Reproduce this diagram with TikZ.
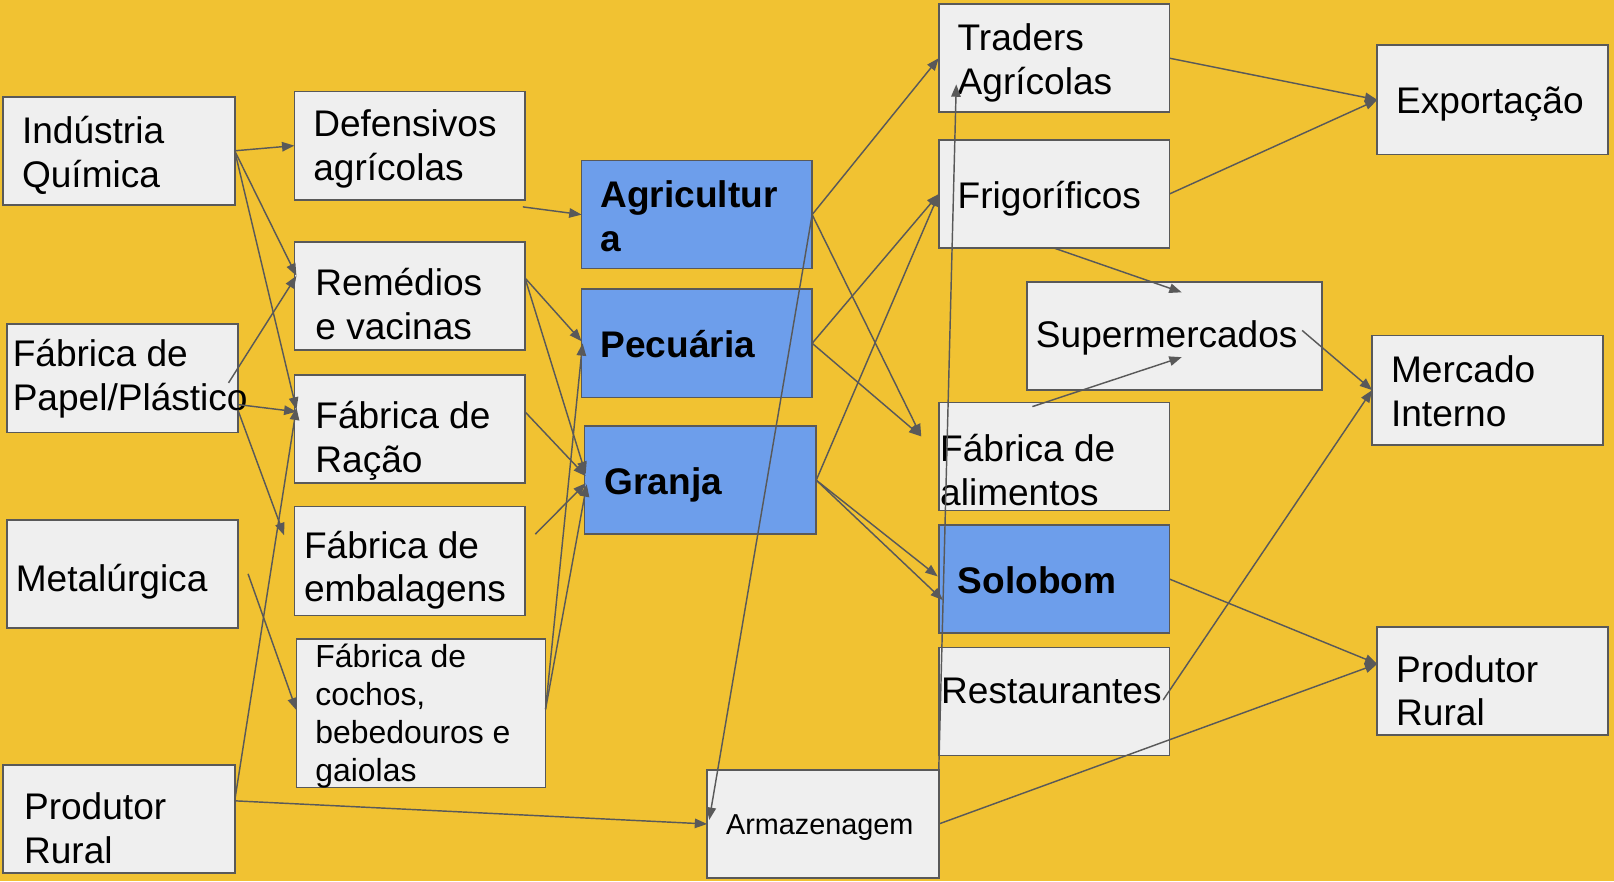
\documentclass[tikz,border=0pt]{standalone}
\usepackage{fontspec}
\setmainfont{Liberation Sans}
\usetikzlibrary{fit,calc,arrows.meta}
\definecolor{bgY}{HTML}{F1C232}
\definecolor{boxG}{HTML}{EFEFEF}
\definecolor{lineG}{HTML}{595959}
\definecolor{blueB}{HTML}{6D9EEB}
\begin{document}
\begin{tikzpicture}[x=0.5pt,y=-0.5pt,
  box/.style={draw=lineG, line width=0.8pt, fill=boxG, inner sep=0pt, outer sep=0pt},
  bbox/.style={box, fill=blueB},
  basetxt/.style={anchor=west, align=left, inner sep=0pt},
  txt/.style={basetxt, yshift=-1.5pt, font=\fontsize{18}{21.3}\selectfont},
  btxt/.style={basetxt, font=\fontsize{18}{21.3}\selectfont\bfseries},
  stxt/.style={basetxt, yshift=-1.5pt, font=\fontsize{15.5}{18.5}\selectfont},
  xtxt/.style={basetxt, yshift=-1.5pt, font=\fontsize{14}{16}\selectfont},
  arr/.style={draw=lineG, line width=0.7pt, -{Triangle[length=6pt,width=4.6pt]}}]
\fill[bgY] (0,0) rectangle (1568,856);
\useasboundingbox (0,0) rectangle (1568,856);
% boxes
\node[box, fit={(3,94) (228,199)}] (ind) {};
\node[box, fit={(286,89) (510,194)}] (def) {};
\node[box, fit={(286,235) (510,340)}] (rem) {};
\node[box, fit={(286,364) (510,469)}] (rac) {};
\node[box, fit={(286,492) (510,598)}] (emb) {};
\node[box, fit={(288,621) (530,765)}] (coc) {};
\node[box, fit={(7,315) (231,420)}] (pap) {};
\node[box, fit={(7,505) (231,610)}] (met) {};
\node[box, fit={(3,743) (228,848)}] (prl) {};
\node[bbox, fit={(565,156) (789,261)}] (agr) {};
\node[bbox, fit={(565,281) (789,386)}] (pec) {};
\node[bbox, fit={(568,414) (793,519)}] (gra) {};
\node[box, fit={(912,4) (1136,109)}] (tra) {};
\node[box, fit={(912,136) (1136,241)}] (fri) {};
\node[box, fit={(998,274) (1284,379)}] (sup) {};
\node[box, fit={(912,391) (1136,496)}] (fal) {};
\node[bbox, fit={(912,510) (1136,615)}] (sol) {};
\node[box, fit={(912,629) (1136,734)}] (res) {};
\node[box, fit={(687,748) (912,853)}] (arm) {};
\node[box, fit={(1338,44) (1562,150)}] (exp) {};
\node[box, fit={(1333,326) (1557,432)}] (mer) {};
\node[box, fit={(1338,609) (1562,714)}] (prr) {};
% texts
\node[txt] (indT) at (21,148) {Indústria\\Química};
\node[txt] (defT) at (304,142) {Defensivos\\agrícolas};
\node[txt] (remT) at (306,292) {Remédios\\e vacinas};
\node[txt] (racT) at (306,425) {Fábrica de\\Ração};
\node[txt] (embT) at (295,551) {Fábrica de\\embalagens};
\node[stxt] (cocT) at (306,693) {Fábrica de\\cochos,\\bebedouros e\\gaiolas};
\node[txt] (papT) at (12,365) {Fábrica de\\Papel/Plástico};
\node[txt] (metT) at (15,562) {Metalúrgica};
\node[txt] (prlT) at (23,802) {Produtor\\Rural};
\node[btxt] (agrT) at (583,210) {Agricultur\\a};
\node[btxt] (pecT) at (583,334) {Pecuária};
\node[btxt] (graT) at (587,471) {Granja};
\node[txt] (traT) at (930,58) {Traders\\Agrícolas};
\node[txt] (friT) at (930,190) {Frigoríficos};
\node[txt] (supT) at (1006,325) {Supermercados};
\node[txt] (falT) at (913,454) {Fábrica de\\alimentos};
\node[btxt] (solT) at (930,564) {Solobom};
\node[txt] (resT) at (914,668) {Restaurantes};
\node[xtxt] (armT) at (705,801) {Armazenagem};
\node[txt] (expT) at (1356,98) {Exportação};
\node[txt] (merT) at (1351,377) {Mercado\\Interno};
\node[txt] (prrT) at (1356,668) {Produtor\\Rural};
% connectors
\draw[arr] (ind.east) -- (def.west);
\draw[arr] (ind.east) -- ($(rem.north west)+(2,33)$);
\draw[arr] (ind.east) -- ($(rac.north west)+(2,34)$);
\draw[arr] ($(pap.north east)+(-9,57)$) -- ($(rem.north west)+(2,33)$);
\draw[arr] ($(pap.north east)+(0,78)$) -- ($(rac.north west)+(2,36)$);
\draw[arr] ($(pap.north east)+(0,83)$) -- ($(emb.north west)+(-10,28)$);
\coordinate (metS) at ($(met.east)+(10,0)$);
\draw[arr] (metS) -- ($(coc.north west)+(0,69)$);
\draw[arr] ($(prl.north east)+(0,35)$) -- ($(rac.north west)+(2,32)$);
\draw[arr] ($(prl.north east)+(0,35)$) -- (arm.west);
\draw[arr] ($(def.south east)+(-2,7)$) -- (agr.west);
\draw[arr] ($(rem.north east)+(0,35)$) -- ($(pec.west)+(0,-2)$);
\draw[arr] ($(rem.north east)+(0,35)$) -- ($(gra.west)+(1,-6)$);
\draw[arr] ($(rac.north east)+(0,36)$) -- ($(gra.west)+(1,-4)$);
\coordinate (embS) at ($(emb.north east)+(10,27)$);
\draw[arr] (embS) -- ($(gra.west)+(1,3)$);
\draw[arr] ($(coc.north east)+(0,68)$) -- ($(pec.west)+(1,0)$);
\draw[arr] ($(coc.north east)+(0,68)$) -- ($(gra.west)+(2,4)$);
\draw[arr] (agr.east) -- (tra.west);
\draw[arr] (agr.east) -- ($(fal.north west)+(-17,33)$);
\draw[arr] (pec.east) -- (fri.west);
\draw[arr] (pec.east) -- ($(fal.north west)+(-17,33)$);
\draw[arr] (gra.east) -- (fri.west);
\draw[arr] (gra.east) -- ($(sol.north west)+(-1,50)$);
\draw[arr] (gra.east) -- ($(sol.north west)+(4,73)$);
\draw[arr] (agr.east) -- ($(arm.west)+(2,-4)$);
\draw[arr] (arm.north east) -- ($(tra.north west)+(17,78)$);
\draw[arr] (arm.east) -- ($(prr.north west)+(0,36)$);
\draw[arr] (tra.east) -- (exp.west);
\draw[arr] (fri.east) -- (exp.west);
\draw[arr] (fri.south) -- ($(sup.north west)+(150,10)$);
\draw[arr] ($(fal.north west)+(91,4)$) -- ($(sup.north west)+(150,73)$);
\draw[arr] ($(sup.north east)+(-19,47)$) -- (mer.west);
\draw[arr] ($(res.north east)+(-6,51)$) -- (mer.west);
\draw[arr] (sol.east) -- ($(prr.north west)+(0,36)$);
\end{tikzpicture}
\end{document}
